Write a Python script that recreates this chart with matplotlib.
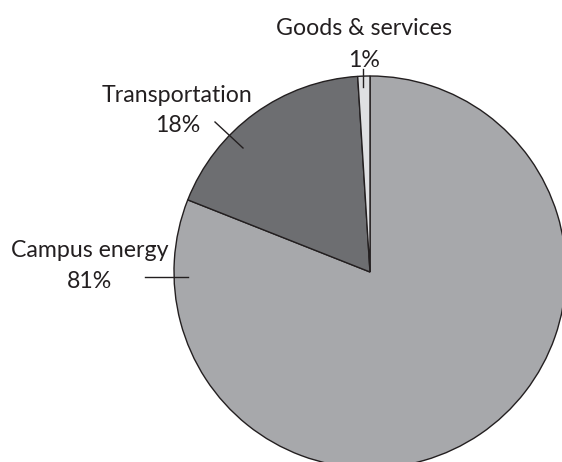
import matplotlib
matplotlib.use("Agg")
import matplotlib.pyplot as plt

categories = ["Campus energy", "Transportation", "Goods & services"]
values = [81, 18, 1]
colors = ["#a7a8ab", "#6d6e71", "#dfe0e2"]

W, H = 562, 462
fig = plt.figure(figsize=(W / 100, H / 100), dpi=100)
cx, cy, r = 370, 272, 196
ax = fig.add_axes([(cx - r) / W, (H - cy - r) / H, 2 * r / W, 2 * r / H])
ax.axis("off")

ax.pie(values, colors=colors, startangle=90, counterclock=False, radius=1,
       wedgeprops=dict(edgecolor="#231f20", linewidth=1.0), frame=False)
ax.set_xlim(-1, 1)
ax.set_ylim(-1, 1)

font = dict(family="Lato", size=16.7, color="#231f20")

def px(x, y):
    return ((x - cx) / r, (cy - y) / r)

# label positions (pixel layout of the reference), baselines
labels = [
    (categories[2], f"{values[2]}%", 364.5, 35, 67, ((363, 69), (363, 87))),
    (categories[1], f"{values[1]}%", 177.5, 102, 132, ((215, 122), (243, 148))),
    (categories[0], f"{values[0]}%", 89.5, 257, 288, ((145, 277), (188, 277))),
]
for name, pct, xc, yb1, yb2, line in labels:
    ax.text(*px(xc, yb1), name, ha="center", va="baseline", clip_on=False, **font)
    ax.text(*px(xc, yb2), pct, ha="center", va="baseline", clip_on=False, **font)
    (x1, y1), (x2, y2) = line
    p1, p2 = px(x1, y1), px(x2, y2)
    ax.plot([p1[0], p2[0]], [p1[1], p2[1]], color="#231f20", lw=1.0, clip_on=False)

fig.savefig("out.png", dpi=100)
